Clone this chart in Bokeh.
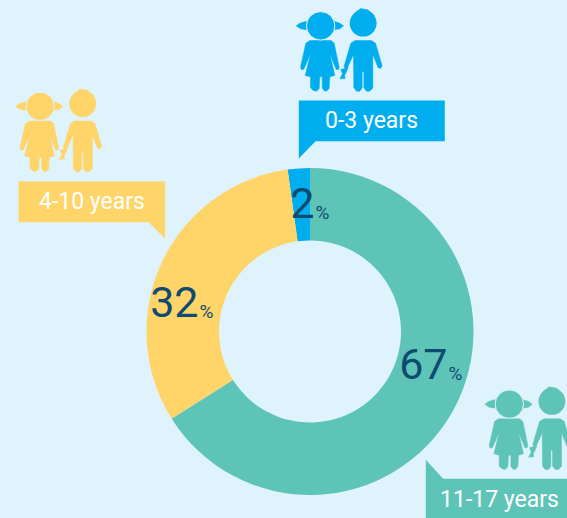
import math
from bokeh.plotting import figure
from bokeh.models import Range1d
from bokeh.core.properties import value
from bokeh.embed import file_html
from bokeh.resources import INLINE

categories = ["0-3 years", "4-10 years", "11-17 years"]
percents = [2.2, 32, 66.5]
percent_labels = ["2", "32", "67"]
colors = ["#00aeef", "#ffd468", "#5fc4b8"]

BG = "#dff3fc"
DARK = "#0f4a70"
FONT = value("Roboto")
W, H = 567, 518
CX, CY, R_OUT, R_IN = 309.5, 331, 163.5, 91

p = figure(width=W, height=H, x_range=Range1d(0, W), y_range=Range1d(0, H),
           output_backend="svg", toolbar_location=None, min_border=0,
           background_fill_color=BG, border_fill_color=BG, outline_line_color=None)
p.axis.visible = False
p.grid.visible = False


def Y(y):
    return H - y


# donut
total = sum(percents)
start = math.pi / 2
starts, ends = [], []
for v in percents:
    starts.append(start)
    start += v / total * 2 * math.pi
    ends.append(start)
p.annular_wedge(x=[CX] * 3, y=[Y(CY)] * 3, inner_radius=R_IN, outer_radius=R_OUT,
                start_angle=starts, end_angle=ends, fill_color=colors, line_color=None)

# children icons (local outline, 1/3 px units)
GIRL = [(88, 120), (152, 120), (161, 128), (176, 200), (174, 207), (167, 207), (148, 160), (163, 225), (148, 229),
        (146, 264), (138, 272), (130, 270), (125, 262), (125, 229), (118, 229), (116, 264), (108, 272), (98, 270),
        (90, 262), (90, 229), (74, 225), (90, 160), (70, 206), (63, 208), (60, 200), (76, 128)]
BOY = [(224, 120), (273, 120), (285, 128), (305, 196), (300, 204), (293, 202), (277, 162), (277, 262), (268, 272),
       (258, 272), (250, 262), (250, 214), (245, 214), (245, 262), (238, 272), (228, 272), (220, 262), (219, 162),
       (200, 204), (192, 202), (191, 196), (211, 128)]
HAND = [(181, 207), (203, 201), (196, 218), (192, 224), (194, 234), (178, 235), (186, 220)]
PIG_L = [(47, 76), (58, 68), (78, 62), (78, 88), (60, 85)]
PIG_R = [(189, 76), (178, 68), (160, 62), (160, 88), (178, 85)]
HAIR = [(222, 38), (240, 24), (262, 28), (282, 46), (270, 60), (230, 60)]


def kids(ox, oy, color):
    for shape in (GIRL, BOY, HAND, PIG_L, PIG_R, HAIR):
        p.patch([ox + a / 3 for a, _ in shape], [Y(oy + b / 3) for _, b in shape],
                fill_color=color, line_color=color, line_width=0.5, line_join="round")
    p.circle(x=[ox + 120.5 / 3], y=[Y(oy + 76 / 3)], radius=14.2, fill_color=color, line_color=BG, line_width=1)
    p.circle(x=[ox + 248 / 3], y=[Y(oy + 68 / 3)], radius=13.4, fill_color=color, line_color=None)


kids(280, 0, colors[0])
kids(-0.5, 80.5, colors[1])
kids(468.7, 378.3, colors[2])

# callout boxes
boxes = [
    [(298.3, 100), (444.3, 100), (444.3, 140.7), (315, 140.7), (298.3, 158)],
    [(18, 181), (164.5, 181), (164.5, 238.3), (148.3, 221.7), (18, 221.7)],
    [(425.3, 459.3), (442.7, 478.3), (575, 478.3), (575, 525), (425.3, 525)],
]
for box, c in zip(boxes, colors):
    p.patch([a for a, _ in box], [Y(b) for _, b in box], fill_color=c, line_color=None)

label_pos = [(371, 120), (91.5, 201), (499, 499)]
for (x, y), t in zip(label_pos, categories):
    p.text(x=[x], y=[Y(y)], text=[t], text_color="white", text_font=FONT, text_font_size="23px",
           text_align="center", text_baseline="middle")

# percent labels
num_pos = [(314, 220), (198, 319), (447, 381)]
for (x, y), t in zip(num_pos, percent_labels):
    p.text(x=[x], y=[Y(y - 18)], text=[t], text_color=DARK, text_font=FONT, text_font_size="43px",
           text_align="right", text_baseline="alphabetic")
    p.text(x=[x + 1], y=[Y(y - 8)], text=["%"], text_color=DARK, text_font=FONT, text_font_size="19px",
           text_align="left", text_baseline="alphabetic")

html = file_html(p, INLINE)
html = html.replace("</head>", "<style>html,body{background:%s;overflow:hidden}</style></head>" % BG, 1)
open("out.html", "w").write(html)
